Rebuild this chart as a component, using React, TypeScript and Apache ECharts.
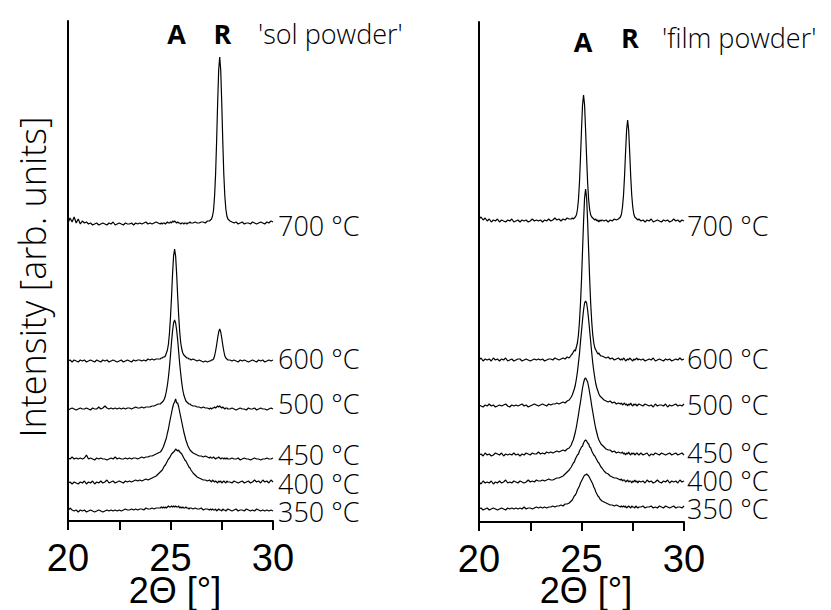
import React, { useEffect, useRef } from "react";
import * as echarts from "echarts";

// 2θ sampling positions (°)
const TWO_THETA = [
  20, 20.1, 20.2, 20.3, 20.4, 20.5, 20.6, 20.7, 20.8, 20.9, 21, 21.1, 21.2, 21.3, 21.4, 21.5, 21.6, 21.7, 21.8, 21.9,
  22, 22.1, 22.2, 22.3, 22.4, 22.5, 22.6, 22.7, 22.8, 22.9, 23, 23.1, 23.2, 23.3, 23.4, 23.5, 23.6, 23.7, 23.8, 23.9,
  24, 24.1, 24.2, 24.3, 24.4,
  24.5, 24.55, 24.6, 24.65, 24.7, 24.75, 24.8, 24.85, 24.9, 24.95, 25, 25.05, 25.1, 25.15, 25.2, 25.25, 25.3, 25.35,
  25.4, 25.45, 25.5, 25.55, 25.6, 25.65, 25.7, 25.75, 25.8, 25.85, 25.9, 25.95, 26,
  26.1, 26.2, 26.3, 26.4, 26.5, 26.6, 26.7, 26.8, 26.9,
  26.95, 27, 27.05, 27.1, 27.15, 27.2, 27.25, 27.3, 27.35, 27.4, 27.45, 27.5, 27.55, 27.6, 27.65, 27.7, 27.75, 27.8,
  27.9, 28, 28.1, 28.2, 28.3, 28.4, 28.5, 28.6, 28.7, 28.8, 28.9, 29, 29.1, 29.2, 29.3, 29.4, 29.5, 29.6, 29.7, 29.8, 29.9, 30,
];

const TEMPERATURES = ["700 °C", "600 °C", "500 °C", "450 °C", "400 °C", "350 °C"];
const X_TICKS = [20, 25, 30];

// vertical waterfall offsets (arb. units)
const SOL_OFFSETS = [297, 160, 112, 62, 38, 10];
const FILM_OFFSETS = [301, 162, 116, 67, 39, 13];

// ---- 'sol powder' intensities (arb. units, above own baseline) ----
const SOL_700 = [
  1, 6, 2, 7, 1, 5, 0, 3, 1, 2, 0, 1, -1, 0, 1, -1, 0, 1, 0, -1, 1, 0, 2, -1, 0, 1, 0, -1, 1, 0, 0, 1, -1, 1, 0, 1, 0, 1, 2, 0, 1, 0, 1, 2, 1,
  0, 1, 0, 1, 1, 0, 1, 2, 1, 1, 2, 1, 3, 2, 3, 2, 1, 2, 1, 1, 0, 1, 1, 0, 1, 1, 0, 1, 1, 2, 1,
  1, 2, 1, 1, 2, 2, 1, 3, 3,
  4, 5, 8, 14, 28, 50, 83, 121, 154, 167, 154, 121, 83, 50, 28, 15, 8, 5,
  3, 2, 1, 2, 0, 1, 2, 0, 1, 1, 0, 2, 1, 0, 1, 2, 1, 0, 2, 1, 3, 2,
];
const SOL_600 = [
  0, 1, -1, 1, 0, -1, 1, 0, 1, -1, 0, 1, 0, -1, 1, 0, -1, 1, 0, 1, -1, 0, 1, 0, -1, 0, 1, -1, 0, 1, 0, -1, 1, 0, 1, 1, 0, 1, 0, 2, 1, 2, 1, 2, 2,
  2, 3, 3, 4, 4, 5, 8, 11, 17, 28, 44, 64, 87, 105, 112, 105, 87, 65, 45, 29, 18, 12, 8, 6, 5, 4, 3, 3, 2, 2, 1,
  2, 1, 0, 1, 0, -1, 0, -1, 0,
  0, 1, 1, 2, 5, 10, 16, 23, 29, 32, 29, 23, 16, 10, 5, 3, 2, 1,
  1, 0, 1, 0, -1, 1, 0, 1, 0, -1, 0, 1, 0, -1, 1, 0, 1, -1, 0, 1, 0, 1,
];
const SOL_500 = [
  -1, 0, 1, 0, -1, 0, 1, 0, 0, 1, 0, -1, 1, 0, 0, 2, 0, 1, 3, 1, 0, 1, 0, 1, 0, 1, 0, 1, 0, 1, 1, 0, 1, 2, 1, 1, 2, 1, 2, 2, 2, 3, 3, 4, 5,
  5, 6, 7, 8, 10, 13, 18, 24, 32, 42, 54, 67, 78, 86, 89, 86, 79, 69, 57, 45, 35, 26, 19, 14, 11, 8, 7, 6, 5, 5, 4,
  3, 3, 2, 2, 1, 2, 1, 1, 0,
  1, 0, 1, 1, 2, 1, 2, 3, 2, 3, 2, 1, 2, 1, 0, 1, 1, 0,
  0, 1, 0, -1, 0, 1, 0, 0, -1, 1, 0, 0, 1, -1, 0, 1, 0, 0, -1, 0, 1, 0,
];
const SOL_450 = [
  1, 0, 2, 0, 1, 0, 1, 0, 1, 4, 0, 1, 0, -1, 1, 0, 1, 0, 0, -1, 0, 1, 0, 2, 0, 1, 0, 0, 1, 0, 1, 0, 1, 1, 0, 1, 2, 1, 2, 2, 3, 3, 4, 5, 6,
  7, 8, 10, 12, 15, 18, 21, 26, 30, 36, 41, 46, 51, 55, 57, 60, 56, 56, 52, 47, 42, 37, 32, 27, 23, 19, 16, 13, 11, 9, 8,
  6, 5, 4, 3, 3, 2, 3, 2, 1,
  2, 1, 1, 2, 1, 0, 1, 1, 2, 1, 0, 1, 1, 0, 1, 0, 1, 0,
  0, 1, 0, 0, 1, -1, 0, 1, 0, 0, -1, 0, 1, 0, 0, -1, 0, 0, 1, 0, 0, 1,
];
const SOL_400 = [
  0, 1, -1, 1, 0, -1, 1, 0, 2, -1, 1, 0, 2, -1, 1, 0, 2, 0, 1, 3, 0, 1, 2, 0, 1, 2, 1, 0, 2, 1, 2, 1, 2, 3, 2, 3, 2, 3, 4, 3, 4, 5, 6, 7, 9,
  11, 12, 13, 15, 17, 18, 20, 22, 24, 25, 27, 29, 30, 31, 32, 34, 33, 32, 33, 31, 30, 29, 27, 25, 23, 22, 20, 18, 16, 15, 13,
  10, 8, 6, 5, 4, 3, 3, 2, 3,
  2, 1, 3, 2, 1, 2, 1, 0, 2, 1, 2, 0, 1, 2, 1, 0, 2, 1,
  1, 0, 2, 1, 0, 1, 2, 0, 1, 2, 0, 1, 3, 1, 2, 0, 3, 1, 2, 0, 3, 1,
];
const SOL_350 = [
  0, 3, 1, 0, 1, -1, 1, 0, 1, -1, 0, 1, 0, -1, 0, 1, 0, -1, 0, 1, 0, 1, 0, 1, 0, 1, 0, 1, 2, 1, 1, 2, 1, 2, 1, 2, 2, 1, 3, 2, 2, 3, 2, 3, 3,
  3, 4, 3, 4, 3, 4, 3, 4, 5, 4, 4, 5, 4, 5, 4, 5, 4, 4, 5, 3, 4, 3, 4, 3, 3, 4, 3, 3, 2, 3, 3,
  2, 3, 2, 2, 3, 1, 2, 2, 1,
  2, 1, 2, 1, 1, 2, 0, 1, 2, 1, 1, 0, 2, 1, 1, 0, 1, 2,
  1, 0, 1, 2, 0, 1, 1, 0, 2, 1, 0, 1, 0, 2, 1, 0, 1, 0, 1, 0, 1, 0,
];

// ---- 'film powder' intensities ----
const FILM_700 = [
  2, 4, 1, 3, 0, 2, -1, 1, 0, 2, -1, 1, 0, -1, 1, 0, 2, -1, 0, 1, -1, 1, 0, 1, -1, 0, 2, 0, 1, 0, 1, -1, 1, 0, 2, 0, 1, 3, 1, 2, 0, 2, 1, 3, 2,
  2, 3, 2, 3, 4, 6, 11, 21, 38, 63, 91, 116, 126, 116, 91, 63, 38, 21, 11, 6, 4, 3, 2, 1, 2, 0, 1, -1, 1, 0, 1,
  0, 1, -1, 1, 0, 2, 1, 2, 4,
  7, 14, 26, 45, 69, 91, 101, 91, 69, 45, 26, 14, 7, 4, 3, 2, 1, 2,
  0, 1, -1, 1, 0, 2, -1, 0, 1, 0, -1, 1, 0, 1, -1, 0, 2, 0, 1, -1, 1, 0,
];
const FILM_600 = [
  0, 2, -1, 1, 0, 1, -1, 2, 0, 1, -1, 1, 0, 2, -1, 0, 1, -1, 0, 1, 1, -1, 0, 1, 0, -1, 0, 1, 0, 1, 0, 1, -1, 0, 1, 1, 0, 2, 1, 0, 1, 2, 1, 3, 2,
  5, 6, 8, 10, 9, 13, 17, 25, 38, 56, 80, 109, 138, 162, 171, 162, 138, 109, 80, 56, 38, 25, 17, 12, 10, 8, 6, 7, 5, 4, 4,
  3, 2, 3, 1, 2, 0, 1, 2, 0,
  1, 0, 2, 1, -1, 0, 1, 0, 2, 1, 0, -1, 1, 0, 1, 2, 0, 1,
  0, 1, -1, 0, 1, 0, 2, -1, 0, 1, 0, -1, 1, 0, 1, -1, 0, 1, 0, 2, 0, 1,
];
const FILM_500 = [
  1, 0, -1, 1, 0, 2, 0, 1, -1, 0, 1, 0, 1, 2, 0, -1, 1, 0, 1, 0, 1, 2, 0, 1, -1, 0, 1, 2, 1, 0, 1, 2, 1, 0, 2, 1, 2, 2, 3, 2, 3, 4, 3, 5, 6,
  9, 11, 14, 17, 21, 27, 34, 43, 52, 64, 75, 86, 96, 103, 105, 103, 96, 86, 75, 64, 53, 43, 35, 28, 22, 18, 15, 12, 10, 9, 8,
  6, 5, 4, 5, 3, 4, 2, 3, 2,
  3, 1, 2, 3, 1, 2, 0, 2, 1, 3, 1, 0, 2, 1, 2, 0, 1, 2,
  1, 0, 2, 1, 0, 1, -1, 2, 0, 1, 1, 0, 2, -1, 1, 0, 1, 2, 0, 1, 0, 2,
];
const FILM_450 = [
  0, 1, -1, 2, 0, 1, -1, 0, 2, 1, 0, 2, -1, 1, 0, 1, 0, 2, 0, 1, -1, 1, 0, 2, 1, 0, 2, 1, 1, 3, 1, 2, 1, 3, 2, 3, 2, 3, 4, 3, 4, 5, 4, 6, 7,
  10, 13, 15, 19, 23, 28, 34, 40, 47, 53, 60, 67, 72, 76, 77, 75, 73, 68, 62, 56, 49, 43, 37, 31, 26, 22, 18, 15, 13, 11, 10,
  8, 6, 5, 5, 3, 4, 2, 3, 2,
  2, 3, 1, 2, 0, 2, 1, 3, 1, 0, 2, 1, 2, 0, 1, 2, 1, 0,
  2, 0, 1, 2, -1, 1, 0, 2, 1, 0, 2, 1, 0, 1, 2, 0, 1, 2, 0, 1, 2, 0,
];
const FILM_400 = [
  1, -1, 2, 0, 1, 0, 2, -1, 1, 0, 2, 0, 1, 3, 0, 1, 0, 2, 1, 0, 2, 1, 0, 1, 3, 1, 2, 1, 3, 2, 2, 3, 2, 3, 4, 3, 3, 4, 5, 5, 6, 7, 9, 11, 13,
  16, 18, 20, 21, 24, 26, 28, 29, 32, 34, 36, 37, 40, 42, 43, 42, 40, 39, 36, 35, 32, 30, 28, 27, 25, 23, 21, 20, 18, 16, 15,
  12, 10, 9, 7, 6, 5, 5, 4, 3,
  4, 2, 3, 3, 1, 2, 3, 1, 2, 2, 0, 2, 1, 3, 1, 2, 0, 2,
  1, 2, 0, 3, 1, 2, 0, 1, 3, 1, 0, 2, 1, 3, 0, 2, 1, 2, 0, 3, 1, 2,
];
const FILM_350 = [
  0, 1, -1, 0, 1, -1, 0, 1, 0, -1, 0, 1, 0, -1, 1, 0, 1, 0, 1, 0, 1, 0, 2, 0, 1, 1, 0, 1, 2, 1, 2, 1, 2, 1, 2, 2, 3, 2, 3, 3, 4, 3, 5, 5, 6,
  8, 9, 11, 13, 14, 16, 19, 21, 23, 26, 28, 30, 32, 34, 34, 35, 34, 33, 31, 29, 27, 25, 22, 20, 17, 15, 13, 12, 10, 9, 8,
  7, 6, 5, 4, 4, 3, 4, 3, 2,
  3, 2, 3, 2, 3, 1, 2, 3, 2, 1, 3, 2, 2, 1, 3, 2, 1, 2,
  2, 3, 1, 2, 2, 3, 1, 2, 1, 3, 2, 1, 3, 2, 1, 2, 3, 1, 2, 2, 1, 3,
];

const SOL_SERIES = [SOL_700, SOL_600, SOL_500, SOL_450, SOL_400, SOL_350];
const FILM_SERIES = [FILM_700, FILM_600, FILM_500, FILM_450, FILM_400, FILM_350];

const LABEL_FONT = "'Open Sans', 'Noto Sans', sans-serif";
const NUM_FONT = "'Liberation Sans', Arial, sans-serif";

export default function App() {
  const ref = useRef<HTMLDivElement>(null);

  useEffect(() => {
    if (!ref.current) return;
    const chart = echarts.init(ref.current, undefined, { renderer: "svg" });

    const solShift = [3, -2, -6, -4, 1, 0];
    const filmShift = [4, -1, 0, -3, -1, 2];

    const makeSeries = (sets: number[][], offsets: number[], g: number, shifts: number[], dist: number) =>
      sets.map((vals, k) => ({
        type: "line",
        xAxisIndex: g,
        yAxisIndex: g,
        data: TWO_THETA.map((x, i) => [x, vals[i] + offsets[k]]),
        showSymbol: false,
        symbol: "none",
        silent: true,
        lineStyle: { color: "#000", width: 1.2 },
        endLabel: {
          show: true,
          formatter: TEMPERATURES[k],
          fontSize: 27,
          fontWeight: 350,
          lineHeight: 22,
          fontFamily: LABEL_FONT,
          color: "#000",
          distance: dist,
          offset: [0, shifts[k]],
        },
      }));

    const axisX = (g: number) => ({
      type: "value",
      gridIndex: g,
      min: 20,
      max: 30,
      interval: 2.5,
      axisLine: { show: true, onZero: false, lineStyle: { color: "#000", width: 2 } },
      axisTick: { show: true, inside: false, length: 9, lineStyle: { color: "#000", width: 2 } },
      axisLabel: {
        formatter: (v: number) => (X_TICKS.includes(v) ? String(v) : ""),
        fontSize: 38,
        fontFamily: NUM_FONT,
        color: "#000",
        margin: 18,
      },
      splitLine: { show: false },
    });

    const axisY = (g: number) => ({
      type: "value",
      gridIndex: g,
      min: 0,
      max: 500,
      axisLine: { show: true, lineStyle: { color: "#000", width: 2 } },
      axisTick: { show: false },
      axisLabel: { show: false },
      splitLine: { show: false },
    });

    const txt = (text: string, x: number, y: number, size: number, font: string, extra: any = {}) => ({
      type: "text",
      x,
      y,
      silent: true,
      ...extra,
      style: {
        text,
        fontSize: size,
        fontFamily: font,
        fill: "#000",
        align: "center",
        verticalAlign: "middle",
        ...(extra.style || {}),
      },
    });

    chart.setOption({
      animation: false,
      backgroundColor: "#fff",
      grid: [
        { left: 68, top: 21, width: 205, height: 500 },
        { left: 479, top: 22, width: 205, height: 500 },
      ],
      xAxis: [axisX(0), axisX(1)],
      yAxis: [axisY(0), axisY(1)],
      series: [
        ...makeSeries(SOL_SERIES, SOL_OFFSETS, 0, solShift, 5),
        ...makeSeries(FILM_SERIES, FILM_OFFSETS, 1, filmShift, 3),
      ],
      graphic: [
        txt("Intensity [arb. units]", 32, 277, 36, LABEL_FONT, { rotation: Math.PI / 2, style: { fontWeight: 300 } }),
        txt("2\u0398 [°]", 175, 590, 36, NUM_FONT),
        txt("2\u0398 [°]", 586, 590, 36, NUM_FONT),
        txt("A", 176.5, 33, 27, LABEL_FONT, { style: { fontWeight: "bold" } }),
        txt("R", 222.5, 33, 27, LABEL_FONT, { style: { fontWeight: "bold" } }),
        txt("'sol powder'", 258, 33, 27, LABEL_FONT, { style: { align: "left", fontWeight: 350 } }),
        txt("A", 583, 41, 27, LABEL_FONT, { style: { fontWeight: "bold" } }),
        txt("R", 630, 37, 27, LABEL_FONT, { style: { fontWeight: "bold" } }),
        txt("'film powder'", 662, 37, 27, LABEL_FONT, { style: { align: "left", fontWeight: 350 } }),
      ],
    });

    return () => chart.dispose();
  }, []);

  return (
    <div
      ref={ref}
      style={{ position: "fixed", left: 0, top: 0, width: 831, height: 610, background: "#fff" }}
    />
  );
}
